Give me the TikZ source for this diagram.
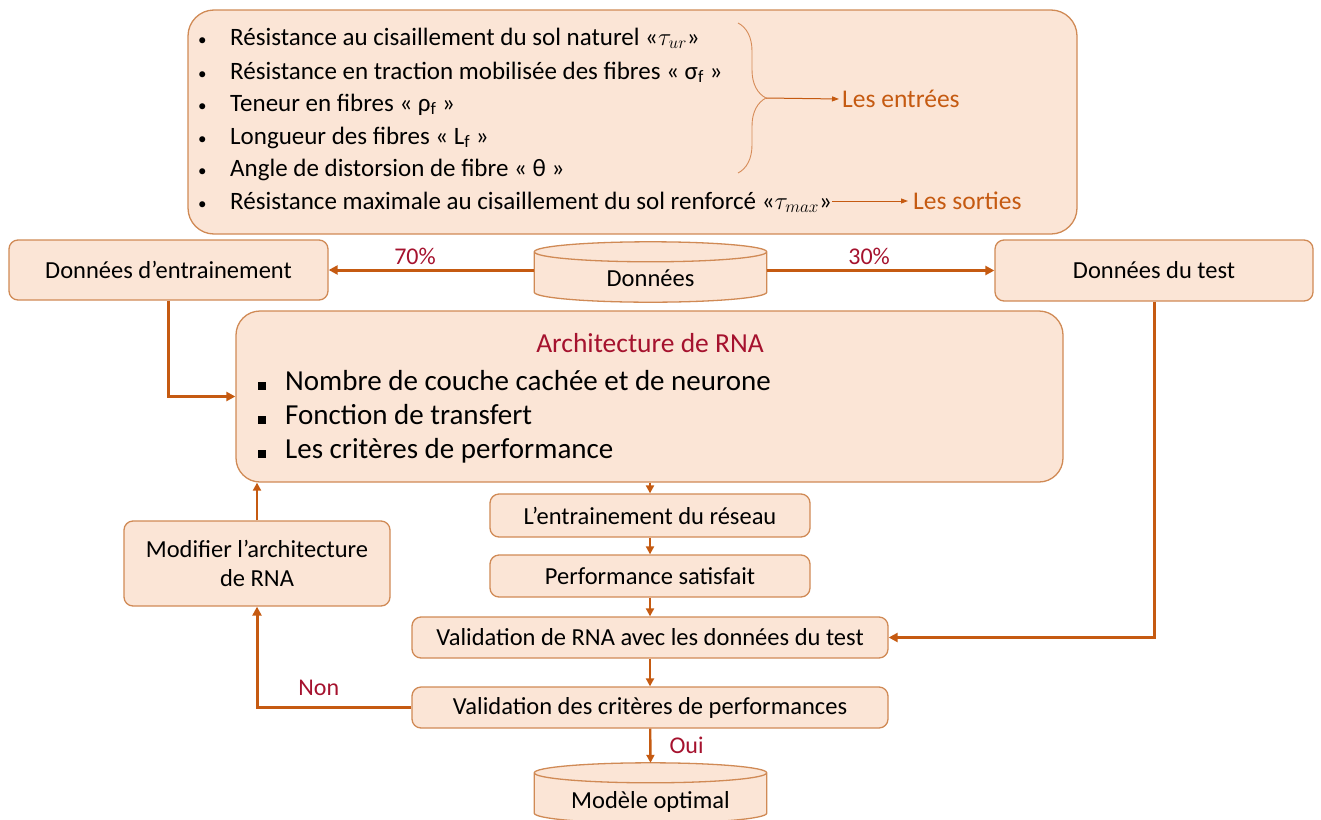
\documentclass[tikz,border=0pt]{standalone}
\usepackage{fontspec}
\setmainfont{Carlito}
\usepackage{tikz}
\usetikzlibrary{shapes.geometric, arrows.meta, positioning, calc, decorations.pathreplacing, backgrounds}
\usepackage{xcolor}
\definecolor{peach}{HTML}{FBE5D6}
\definecolor{rust}{HTML}{C55A11}
\definecolor{edge}{HTML}{D08A55}
\definecolor{crimson}{HTML}{A5122E}

% drum (database) outline round a named node
\newcommand{\drum}[1]{%
  \path [draw=edge, fill=peach, line width=1.3pt] let \p1=(#1.north west), \p2=(#1.south east), \n1={(\x2-\x1)/2} in
    (\x1,\y1-10pt) -- (\x1,\y2+10pt) arc[start angle=180, end angle=360, x radius=\n1, y radius=10pt]
    -- (\x2,\y1-10pt) arc[start angle=0, end angle=180, x radius=\n1, y radius=10pt] -- cycle
    (\x1,\y1-10pt) arc[start angle=180, end angle=360, x radius=\n1, y radius=10pt];}

\begin{document}
\begin{tikzpicture}[
    x=1pt, y=-1pt,
    bigbox/.style = {rectangle, draw=edge, fill=peach, line width=1.3pt, rounded corners=26pt},
    box/.style = {rectangle, draw=edge, fill=peach, line width=1.3pt, rounded corners=9pt, align=center, font=\fontsize{24.5}{29}\selectfont, inner sep=0pt},
    base/.style = {rectangle, font=\fontsize{24.5}{29}\selectfont, inner sep=0pt},
    item/.style = {anchor=base west, inner sep=0pt, font=\fontsize{25}{30}\selectfont},
    point/.style = {anchor=west, inner sep=0pt, font=\fontsize{29}{34}\selectfont},
    tag/.style = {font=\fontsize{24}{28}\selectfont, text=crimson, inner sep=4pt},
    result/.style = {font=\fontsize{25.5}{30}\selectfont, text=rust, anchor=west, inner sep=0pt},
    arrow/.style = {draw=rust, line width=3pt, -{Triangle[length=9pt, width=9pt]}},
    link/.style = {draw=rust, line width=2.4pt, -{Triangle[length=8pt, width=8pt]}},
    fine/.style = {draw=rust, line width=1pt, -{Triangle[length=7pt, width=5pt]}}
]
\useasboundingbox (0,0) rectangle (1321,819);
\newcommand{\dotmark}{\makebox[32pt][l]{\fontsize{17}{17}\selectfont\textbullet}}

% Parameters box
\node (params) [bigbox, minimum width=889pt, minimum height=224pt, at={(632.5,122)}] {};
\node (in_tau) [item, at={(198,45)}] {\dotmark Résistance au cisaillement du sol naturel «$\tau_{ur}$»};
\node (in_sigma) [item, at={(198,79)}] {\dotmark Résistance en traction mobilisée des fibres « σ\textsubscript{f} »};
\node (in_rho) [item, at={(198,111)}] {\dotmark Teneur en fibres « ρ\textsubscript{f} »};
\node (in_len) [item, at={(198,144)}] {\dotmark Longueur des fibres « L\textsubscript{f} »};
\node (in_theta) [item, at={(198,176)}] {\dotmark Angle de distorsion de fibre « θ »};
\node (out_tau) [item, at={(198,209)}] {\dotmark Résistance maximale au cisaillement du sol renforcé «$\tau_{max}$»};
\node (entrees) [result, at={(842,99)}] {Les entrées};
\node (sorties) [result, at={(913,201)}] {Les sorties};

\draw [draw=rust!70, line width=0.9pt, decorate, decoration={brace, amplitude=28pt}] (738,23) -- (738,173);
\coordinate (brtip) at (766,98);
\draw [fine] (brtip) -- ([xshift=-3pt]entrees.west);
\draw [fine] (out_tau.east |- sorties.west) -- ([xshift=-5pt]sorties.west);

% Data split
\node (train) [box, minimum width=319pt, minimum height=60pt, at={(168.5,270)}] {Données d’entrainement};
\node (data) [base, minimum width=232pt, minimum height=60pt, at={(650.5,272)}] {\raisebox{-14pt}[0pt][0pt]{Données}};
\node (test) [box, minimum width=318pt, minimum height=61pt, at={(1154,270.5)}] {Données du test};

\draw [arrow] (data.west |- train.east) -- node [tag, above, pos=0.58] {70\%} (train.east);
\draw [arrow] (data.east |- test.west) -- node [tag, above, pos=0.45] {30\%} (test.west);

% Network architecture
\node (arch) [bigbox, rounded corners=24pt, minimum width=827pt, minimum height=171pt, at={(649.5,396.5)}] {};
\node (arch_title) [font=\fontsize{27.5}{32}\selectfont, text=crimson, inner sep=0pt, at={(650,343)}] {Architecture de RNA};
\node (arch_layers) [point, at={(258,380.5)}] {\makebox[27pt][l]{\rule{8pt}{8pt}}Nombre de couche cachée et de neurone};
\node (arch_func) [point, at={(258,414.5)}] {\makebox[27pt][l]{\rule{8pt}{8pt}}Fonction de transfert};
\node (arch_crit) [point, at={(258,450.5)}] {\makebox[27pt][l]{\rule{8pt}{8pt}}Les critères de performance};

% Training and validation
\node (training) [box, minimum width=320pt, minimum height=43pt, at={(650,515.5)}] {L’entrainement du réseau};
\node (perf) [box, minimum width=320pt, minimum height=42pt, at={(650,576)}] {Performance satisfait};
\node (valid) [box, minimum width=476pt, minimum height=41pt, at={(650,637.5)}] {Validation de RNA avec les données du test};
\node (check) [box, minimum width=476pt, minimum height=41pt, at={(650,707.5)}] {Validation des critères de performances};
\node (optimal) [base, minimum width=232pt, minimum height=60pt, at={(650.5,793)}] {\raisebox{-15pt}[0pt][0pt]{Modèle optimal}};
\node (modify) [box, minimum width=266pt, minimum height=85pt, at={(257,563.5)}] {Modifier l’architecture\\de RNA};

\begin{scope}[on background layer]
\drum{data}
\drum{optimal}
\end{scope}

\draw [arrow] (train.south) |- (arch.west);
\draw [arrow] (test.south) |- (valid.east);
\draw [link] (arch.south -| training.north) -- (training.north);
\draw [link] (training) -- (perf);
\draw [link] (perf) -- (valid);
\draw [link] (valid) -- (check);
\draw [link] (check) -- node [tag, anchor=west, xshift=14pt] {Oui} (optimal.north);
\draw [arrow] (check.west) -| node [tag, above, pos=0.3, inner sep=10pt] {Non} (modify.south);
\draw [link] (modify.north) -- (modify.north |- arch.south);

\end{tikzpicture}
\end{document}
